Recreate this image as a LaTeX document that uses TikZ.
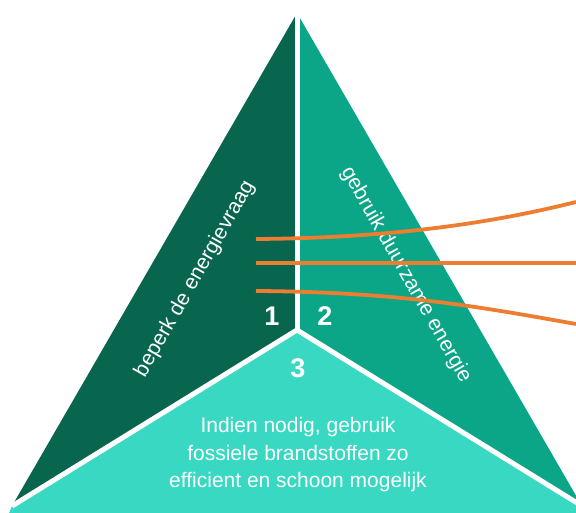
\documentclass[tikz,border=0pt]{standalone}
\usepackage{fontspec}
\setmainfont{Liberation Sans}
\definecolor{darkgreen}{HTML}{08664F}
\definecolor{midgreen}{HTML}{0BA687}
\definecolor{lightteal}{HTML}{38D8C3}
\definecolor{lineorange}{HTML}{ED7D31}

\begin{document}
\begin{tikzpicture}
  [x=1pt,y=1pt,
   sideT/.style={text=white,font=\fontsize{21}{25}\selectfont},
   numT/.style={text=white,font=\fontsize{27}{30}\selectfont\bfseries},
   baseT/.style={text=white,align=center,font=\fontsize{21}{27.5}\selectfont},
   sepL/.style={white,line width=5pt},
   orangeL/.style={lineorange,line width=3.8pt}]

  \useasboundingbox (0,0) rectangle (576,513);
  \clip (0,0) rectangle (576,513);

  \coordinate (apex)   at (297,500);
  \coordinate (center) at (297,183);
  \coordinate (lc)     at (12,7);
  \coordinate (rc)     at (582,7);

  % the three parts
  \fill[darkgreen] (apex) -- (lc) -- (center) -- cycle;
  \fill[midgreen]  (apex) -- (center) -- (rc) -- cycle;
  \fill[lightteal] (lc) -- (center) -- (rc) -- (590,-10) -- (5,-10) -- cycle;

  \draw[sepL] (297,510) -- (center);
  \draw[sepL] (lc) -- (center) -- (rc);

  \node[sideT,rotate=60.4]  (demand)    at (195,234) {beperk de energievraag};
  \node[sideT,rotate=-60.4] (renewable) at (406,238) {gebruik duurzame energie};

  \node[numT] (one)   at (272,197) {1};
  \node[numT] (two)   at (325,197) {2};
  \node[numT] (three) at (298,145) {3};

  \node[baseT] (fossil) at (298,58)
    {Indien nodig, gebruik\\fossiele brandstoffen zo\\efficient en schoon mogelijk};

  % lines out to the right
  \coordinate (s1) at (256,274);
  \coordinate (s2) at (256,250);
  \coordinate (s3) at (256,222);
  \coordinate (e1) at (576,311);
  \coordinate (e2) at (576,250);
  \coordinate (e3) at (576,189);

  \draw[orangeL] (s1) .. controls (400,275) and (500,292) .. (e1);
  \draw[orangeL] (s2) -- (e2);
  \draw[orangeL] (s3) .. controls (400,221) and (480,206) .. (e3);

\end{tikzpicture}
\end{document}
